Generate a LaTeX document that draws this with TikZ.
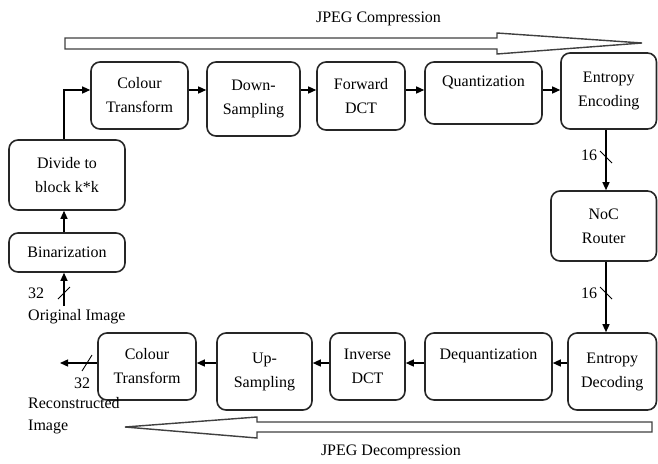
\documentclass[tikz,border=0pt]{standalone}
\usepackage{fontspec}
\setmainfont{Liberation Serif}
\usetikzlibrary{arrows.meta}
\begin{document}
\begin{tikzpicture}[x=1pt, y=-1pt, font=\fontsize{16}{24}\selectfont,
  >={Triangle[length=8pt, width=7pt]},
  blk/.style={draw=black!85, line width=1.6pt, rounded corners=9pt, align=center, inner sep=0pt},
  flow/.style={->, line width=1.3pt},
  bus/.style={line width=0.9pt},
  big/.style={draw=black!75, line width=1.4pt, fill=white, line join=miter},
  lab/.style={inner sep=0pt, align=left}]
\useasboundingbox (0,0) rectangle (658,463);
% compression row
\node[blk, minimum width=97pt,  minimum height=67pt] (ct)    at (139.5,95.5) {Colour\\Transform};
\node[blk, minimum width=93pt,  minimum height=74pt] (ds)    at (253.5,99)   {Down-\\Sampling};
\node[blk, minimum width=88pt,  minimum height=68pt] (fdct)  at (361,96)     {Forward\\DCT};
\node[blk, minimum width=117pt, minimum height=62pt] (quant) at (483.5,93)   {Quantization\\\mbox{}};
\node[blk, minimum width=95.5pt, minimum height=76pt] (enc)  at (608.75,91)  {Entropy\\Encoding};
% left column
\node[blk, minimum width=116pt, minimum height=70pt] (div)   at (67,175)     {Divide to\\block k*k};
\node[blk, minimum width=116pt, minimum height=39pt] (bin)   at (67,252.5)   {Binarization};
% right column
\node[blk, minimum width=105.5pt, minimum height=70pt] (noc) at (603.75,226) {NoC\\Router};
% decompression row
\node[blk, minimum width=88.5pt, minimum height=77pt] (dec)  at (612.25,371.5) {Entropy\\Decoding};
\node[blk, minimum width=127pt, minimum height=67pt] (deq)   at (488.5,366.5) {Dequantization\\\mbox{}};
\node[blk, minimum width=75pt,  minimum height=67pt] (idct)  at (367.5,366.5) {Inverse\\DCT};
\node[blk, minimum width=95pt,  minimum height=77pt] (us)    at (264.5,371.5) {Up-\\Sampling};
\node[blk, minimum width=98pt,  minimum height=67pt] (ct2)   at (147,366.5)  {Colour\\Transform};
% helper coordinates
\coordinate (r1) at (0,90);
\coordinate (r2) at (0,363);
\coordinate (c1) at (64,0);
\coordinate (c2) at (606,0);
\coordinate (orig) at (64,306);
\coordinate (recon) at (60,363);
% connectors
\draw[flow] (ct.east |- r1) -- (ds.west |- r1);
\draw[flow] (ds.east |- r1) -- (fdct.west |- r1);
\draw[flow] (fdct.east |- r1) -- (quant.west |- r1);
\draw[flow] (quant.east |- r1) -- (enc.west |- r1);
\draw[flow] (orig) -- (bin.south -| c1);
\draw[flow] (bin.north -| c1) -- (div.south -| c1);
\draw[flow] (div.north -| c1) |- (ct.west |- r1);
\draw[flow] (enc.south -| c2) -- (noc.north -| c2);
\draw[flow] (noc.south -| c2) -- (dec.north -| c2);
\draw[flow] (dec.west |- r2) -- (deq.east |- r2);
\draw[flow] (deq.west |- r2) -- (idct.east |- r2);
\draw[flow] (idct.west |- r2) -- (us.east |- r2);
\draw[flow] (us.west |- r2) -- (ct2.east |- r2);
\draw[flow] (ct2.west |- r2) -- (recon);
% bus width marks
\draw[bus] (64,293) +(-6,6) -- +(6,-6);
\draw[bus] (87,363) +(-5,8) -- +(5,-8);
\draw[bus] (606,157) +(-6,-6) -- +(6,6);
\draw[bus] (606,293) +(-6,-6) -- +(6,6);
\node[lab] (w1) at (36,293)  {32};
\node[lab] (w2) at (82,383)  {32};
\node[lab] (w3) at (589,155) {16};
\node[lab] (w4) at (589,293) {16};
\node[lab, anchor=west] (oi) at (28,317) {Original Image};
\node[lab, anchor=north west, font=\fontsize{16}{22}\selectfont] (ri) at (28,397) {Reconstructed\\Image};
% process arrows
\draw[big] (65,38) -- (497,38) -- (497,33) -- (642,43) -- (497,54) -- (497,49) -- (65,49) -- cycle;
\draw[big] (652,422) -- (257,422) -- (257,417) -- (125,427) -- (257,438) -- (257,432) -- (652,432) -- cycle;
\node[lab] (jc) at (378.5,19)  {JPEG Compression};
\node[lab] (jd) at (391,452)   {JPEG Decompression};
\end{tikzpicture}
\end{document}
